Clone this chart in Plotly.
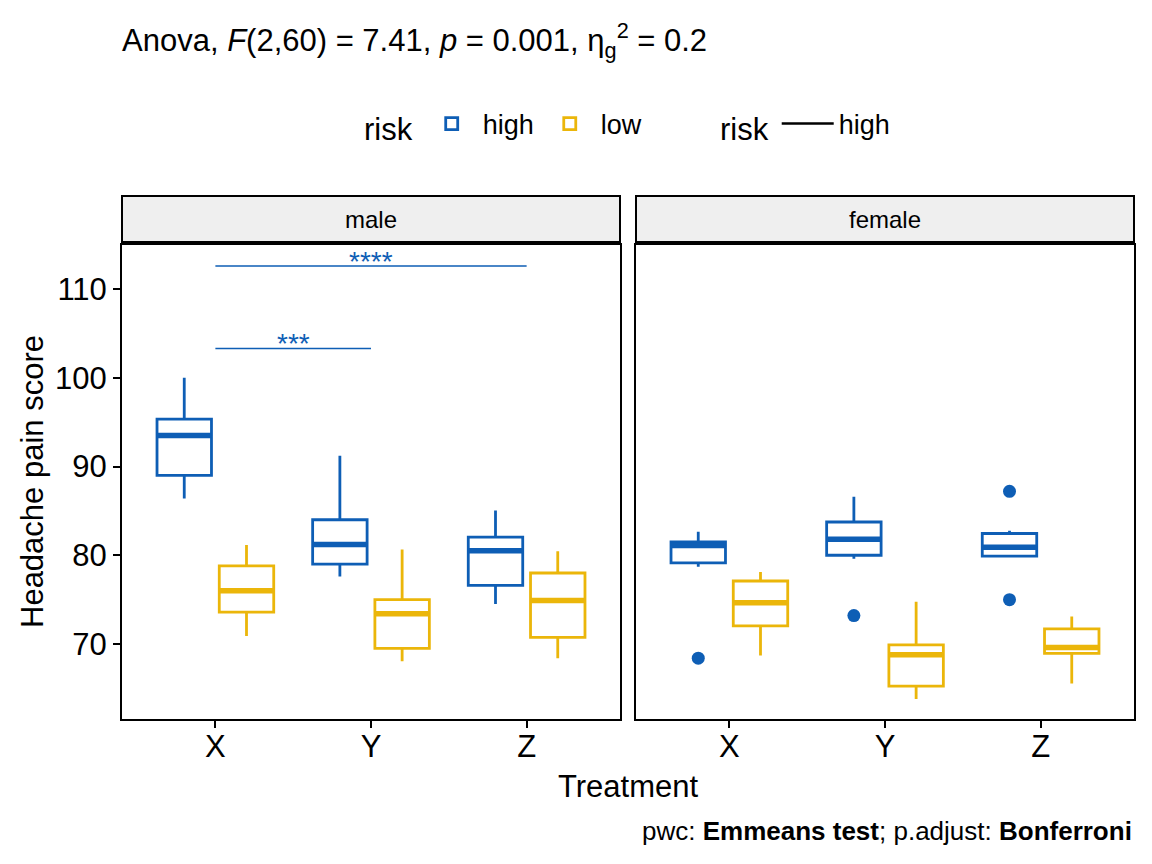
import plotly.graph_objects as go

# ---------------- data ----------------
categories = ["X", "Y", "Z"]
facets = ["male", "female"]
risk_levels = ["high", "low"]

male_high_q1 = [89.0, 79.0, 76.6]
male_high_med = [93.5, 81.2, 80.5]
male_high_q3 = [95.35, 84.0, 82.05]
male_high_lo = [86.4, 77.6, 74.5]
male_high_hi = [100.0, 91.2, 85.05]

male_low_q1 = [73.6, 69.5, 70.75]
male_low_med = [76.0, 73.4, 74.9]
male_low_q3 = [78.8, 75.0, 78.0]
male_low_lo = [70.9, 68.05, 68.4]
male_low_hi = [81.15, 80.65, 80.45]

female_high_q1 = [79.15, 80.0, 79.9]
female_high_med = [81.1, 81.8, 80.9]
female_high_q3 = [81.5, 83.75, 82.45]
female_high_lo = [78.7, 79.6, 79.75]
female_high_hi = [82.65, 86.6, 82.75]

female_low_q1 = [72.05, 65.25, 68.95]
female_low_med = [74.65, 68.8, 69.6]
female_low_q3 = [77.1, 69.9, 71.7]
female_low_lo = [68.7, 63.8, 65.55]
female_low_hi = [78.1, 74.75, 73.1]

female_high_outlier_cat = ["X", "Y", "Z", "Z"]
female_high_outlier_val = [68.4, 73.2, 87.2, 75.0]

# pairwise comparisons (male panel, risk = high)
pwc_group1 = ["X", "X"]
pwc_group2 = ["Y", "Z"]
pwc_ypos = [103.3, 112.6]
pwc_label = ["***", "****"]

title_text = "Anova, <i>F</i>(2,60) = 7.41, <i>p</i> = 0.001, η<sub>g</sub><sup>2</sup> = 0.2"
caption_text = "pwc: <b>Emmeans test</b>; p.adjust: <b>Bonferroni</b>"

# ---------------- style ----------------
colors = {"high": "#0E5EB5", "low": "#EBB60A"}
FONT = "Liberation Sans, Arial, Helvetica, sans-serif"
dodge = 0.2
box_w = 0.35

stats = {
    ("male", "high"): (male_high_q1, male_high_med, male_high_q3, male_high_lo, male_high_hi),
    ("male", "low"): (male_low_q1, male_low_med, male_low_q3, male_low_lo, male_low_hi),
    ("female", "high"): (female_high_q1, female_high_med, female_high_q3, female_high_lo, female_high_hi),
    ("female", "low"): (female_low_q1, female_low_med, female_low_q3, female_low_lo, female_low_hi),
}

cat_pos = {c: i + 1 for i, c in enumerate(categories)}

fig = go.Figure()

for fi, facet in enumerate(facets):
    xa = "x" if fi == 0 else "x2"
    ya = "y" if fi == 0 else "y2"
    for risk in risk_levels:
        q1, med, q3, lo, hi = stats[(facet, risk)]
        off = -dodge if risk == "high" else dodge
        xs = [cat_pos[c] + off for c in categories]
        fig.add_trace(go.Box(
            x=xs, q1=q1, median=med, q3=q3, lowerfence=lo, upperfence=hi,
            width=box_w, whiskerwidth=0, boxpoints=False,
            line=dict(color=colors[risk], width=2.8), fillcolor="white",
            name=risk, legendgroup=risk, showlegend=(fi == 0), legend="legend",
            xaxis=xa, yaxis=ya, hoverinfo="skip",
        ))
        # thicker median segments
        mx, my = [], []
        for x, m in zip(xs, med):
            mx += [x - box_w / 2, x + box_w / 2, None]
            my += [m, m, None]
        fig.add_trace(go.Scatter(
            x=mx, y=my, mode="lines", line=dict(color=colors[risk], width=5.5),
            showlegend=False, xaxis=xa, yaxis=ya, hoverinfo="skip",
        ))

# outliers (female, high)
fig.add_trace(go.Scatter(
    x=[cat_pos[c] - dodge for c in female_high_outlier_cat], y=female_high_outlier_val,
    mode="markers", marker=dict(color=colors["high"], size=13),
    showlegend=False, xaxis="x2", yaxis="y2", hoverinfo="skip",
))

# significance brackets (male panel)
for g1, g2, yv, lab in zip(pwc_group1, pwc_group2, pwc_ypos, pwc_label):
    fig.add_trace(go.Scatter(
        x=[cat_pos[g1], cat_pos[g2]], y=[yv, yv], mode="lines",
        line=dict(color=colors["high"], width=1.6),
        showlegend=False, xaxis="x", yaxis="y", hoverinfo="skip",
    ))
    fig.add_annotation(
        x=(cat_pos[g1] + cat_pos[g2]) / 2, y=yv, xref="x", yref="y",
        text=lab, showarrow=False, xanchor="center", yanchor="bottom", yshift=-13,
        font=dict(size=28, color=colors["high"], family=FONT),
    )

# second legend: bracket colour mapping
fig.add_trace(go.Scatter(
    x=[None], y=[None], mode="lines", line=dict(color="black", width=2.6),
    name="high", showlegend=True, legend="legend2",
))

# ---------------- layout ----------------
W, H = 1152, 864
L, R, T, B = 122, 18, 196, 145
pw, ph = W - L - R, H - T - B
panel_top = 245
strip_top, strip_bot = 196, 242
left_end, right_start = 620, 636


def px_x(px):
    return (px - L) / pw


def px_y(py):
    return (H - B - py) / ph


ydom = [0, px_y(panel_top)]
xdom1 = [0, px_x(left_end)]
xdom2 = [px_x(right_start), 1]

axis_common = dict(
    showline=True, linecolor="black", linewidth=2, mirror=True,
    showgrid=False, zeroline=False, ticks="outside", ticklen=7,
    tickwidth=2, tickcolor="black", tickfont=dict(size=31, color="black", family=FONT),
)

fig.update_layout(
    width=W, height=H,
    margin=dict(l=L, r=R, t=T, b=B),
    plot_bgcolor="white", paper_bgcolor="white",
    font=dict(family=FONT, color="black"),
    boxmode="overlay",
    xaxis=dict(domain=xdom1, range=[0.4, 3.6], tickvals=[1, 2, 3], ticktext=categories,
               anchor="y", ticklabelstandoff=-8, **axis_common),
    xaxis2=dict(domain=xdom2, range=[0.4, 3.6], tickvals=[1, 2, 3], ticktext=categories,
                anchor="y2", ticklabelstandoff=-8, **axis_common),
    yaxis=dict(domain=ydom, range=[61.55, 114.96], tickvals=[70, 80, 90, 100, 110],
               anchor="x", **axis_common),
    yaxis2=dict(domain=ydom, range=[61.55, 114.96], tickvals=[70, 80, 90, 100, 110],
                anchor="x2", showticklabels=False,
                **{k: v for k, v in axis_common.items() if k not in ("ticks",)}, ticks=""),
    legend=dict(orientation="h", xref="container", yref="container",
                x=362 / W, y=1 - 125 / H, xanchor="left", yanchor="middle",
                title=dict(text="risk", font=dict(size=31, family=FONT)),
                font=dict(size=27, family=FONT), itemwidth=52,
                bgcolor="rgba(0,0,0,0)"),
    legend2=dict(orientation="h", xref="container", yref="container",
                 x=718 / W, y=1 - 125 / H, xanchor="left", yanchor="middle",
                 title=dict(text="risk", font=dict(size=31, family=FONT)),
                 font=dict(size=27, family=FONT), itemwidth=52,
                 bgcolor="rgba(0,0,0,0)"),
)

# facet strips
for (x0, x1), lab in zip([xdom1, xdom2], facets):
    fig.add_shape(type="rect", xref="paper", yref="paper", x0=x0, x1=x1,
                  y0=px_y(strip_bot), y1=px_y(strip_top),
                  fillcolor="#EFEFEF", line=dict(color="black", width=2))
    fig.add_annotation(x=(x0 + x1) / 2, y=px_y((strip_top + strip_bot) / 2),
                       xref="paper", yref="paper", text=lab, showarrow=False,
                       xanchor="center", yanchor="middle",
                       font=dict(size=24, family=FONT, color="black"))

# title, axis titles, caption
fig.add_annotation(x=px_x(120), y=px_y(40), xref="paper", yref="paper", text=title_text,
                   showarrow=False, xanchor="left", yanchor="middle",
                   font=dict(size=31, family=FONT, color="black"))
fig.add_annotation(x=0.5, y=px_y(786), xref="paper", yref="paper", text="Treatment",
                   showarrow=False, xanchor="center", yanchor="middle",
                   font=dict(size=31, family=FONT, color="black"))
fig.add_annotation(x=px_x(32), y=px_y(482), xref="paper", yref="paper",
                   text="Headache pain score", textangle=-90, showarrow=False,
                   xanchor="center", yanchor="middle",
                   font=dict(size=31, family=FONT, color="black"))
fig.add_annotation(x=1, y=px_y(831), xref="paper", yref="paper", text=caption_text,
                   showarrow=False, xanchor="right", yanchor="middle",
                   font=dict(size=26, family=FONT, color="black"))

fig.write_html("out.html")
